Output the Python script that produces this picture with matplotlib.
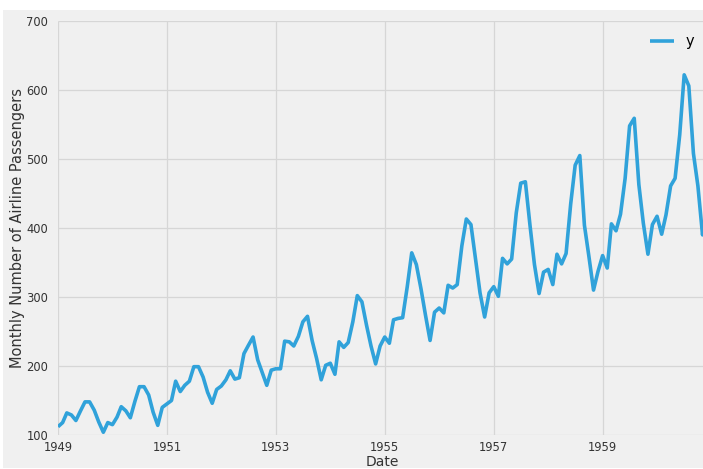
import numpy as np
import pandas as pd
import matplotlib
matplotlib.use('Agg')
import matplotlib.pyplot as plt
import matplotlib.dates as mdates
from matplotlib.patches import Rectangle

# monthly totals of international airline passengers (thousands), 1949-1960
y1949 = [112, 118, 132, 129, 121, 135, 148, 148, 136, 119, 104, 118]
y1950 = [115, 126, 141, 135, 125, 149, 170, 170, 158, 133, 114, 140]
y1951 = [145, 150, 178, 163, 172, 178, 199, 199, 184, 162, 146, 166]
y1952 = [171, 180, 193, 181, 183, 218, 230, 242, 209, 191, 172, 194]
y1953 = [196, 196, 236, 235, 229, 243, 264, 272, 237, 211, 180, 201]
y1954 = [204, 188, 235, 227, 234, 264, 302, 293, 259, 229, 203, 229]
y1955 = [242, 233, 267, 269, 270, 315, 364, 347, 312, 274, 237, 278]
y1956 = [284, 277, 317, 313, 318, 374, 413, 405, 355, 306, 271, 306]
y1957 = [315, 301, 356, 348, 355, 422, 465, 467, 404, 347, 305, 336]
y1958 = [340, 318, 362, 348, 363, 435, 491, 505, 404, 359, 310, 337]
y1959 = [360, 342, 406, 396, 420, 472, 548, 559, 463, 407, 362, 405]
y1960 = [417, 391, 419, 461, 472, 535, 622, 606, 508, 461, 390, 432]

passengers = (y1949 + y1950 + y1951 + y1952 + y1953 + y1954 +
              y1955 + y1956 + y1957 + y1958 + y1959 + y1960)
dates = pd.date_range('1949-01-01', periods=len(passengers), freq='MS')
x_ticks = pd.date_range('1949-01-01', '1959-01-01', freq='24MS')
y_ticks = [100, 200, 300, 400, 500, 600, 700]

plt.style.use('fivethirtyeight')
W, H = 703, 469
fig = plt.figure(figsize=(W / 100, H / 100), dpi=100, facecolor='white')
fig.patches.append(Rectangle((3 / W, 1 / H), 1, (H - 10) / H - 1 / H,
                             transform=fig.transFigure, facecolor='#f0f0f0',
                             edgecolor='none', zorder=-10))

left, right, top, bottom = 58, 707, 21, 435
ax = fig.add_axes([left / W, 1 - bottom / H, (right - left) / W, (bottom - top) / H])
ax.set_facecolor('#f0f0f0')

ax.plot(dates, passengers, color='#30a2da', lw=2.6, label='y')

ax.set_xlim(dates[0], dates[-1])
ax.set_ylim(100, 700)
ax.set_yticks(y_ticks)
ax.set_xticks(x_ticks)
ax.xaxis.set_major_formatter(mdates.DateFormatter('%Y'))

ax.grid(True, color='#d6d6d6', lw=0.9)
for s in ax.spines.values():
    s.set_visible(False)
ax.tick_params(axis='both', length=0, labelsize=8.3, labelcolor='#333333')
ax.tick_params(axis='x', pad=4)
ax.tick_params(axis='y', pad=7)

ax.set_xlabel('Date', fontsize=10, color='#333333', labelpad=1)
ax.set_ylabel('Monthly Number of Airline Passengers', fontsize=10.5,
              color='#333333', labelpad=1)

leg = ax.legend(loc='upper right', frameon=False, fontsize=10.5,
                handlelength=1.6, borderaxespad=0.5)

fig.savefig('out.png', dpi=100, facecolor=fig.get_facecolor())
